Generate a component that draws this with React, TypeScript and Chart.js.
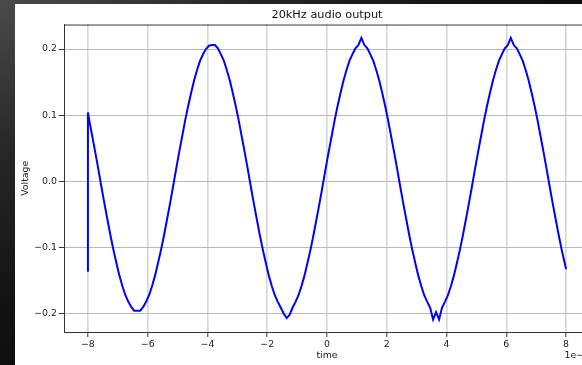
import React, { useEffect, useRef } from "react";
import { Chart, registerables } from "chart.js";

Chart.register(...registerables);

const chartTitle = "20kHz audio output";
const xAxisLabel = "time";
const yAxisLabel = "Voltage";
const xOffsetText = "1e\u22125";

const xTicks = [-8, -6, -4, -2, 0, 2, 4, 6, 8];
const yTicks = [-0.2, -0.1, 0, 0.1, 0.2];

// glitch at the very first instant
const glitchTime = -8;
const glitchVoltages = [-0.137, 0.104];

// regular samples (time in units of 1e-5 s)
const sampleStart = -7.95;
const sampleStep = 0.1;

const voltageSegment1 = [
  0.091, 0.067, 0.043, 0.018, -0.008, -0.033, -0.057, -0.081, -0.103, -0.123,
  -0.142, -0.158, -0.172, -0.182, -0.19, -0.196, -0.196, -0.196, -0.19, -0.182,
  -0.172, -0.158, -0.142, -0.123, -0.103, -0.081, -0.057, -0.033, -0.008, 0.018,
  0.043, 0.067, 0.091, 0.113, 0.133, 0.152, 0.168, 0.182, 0.192, 0.2,
  0.205,
];
const voltageSegment2 = [
  0.206, 0.206, 0.201, 0.192, 0.182, 0.168, 0.152, 0.133, 0.113, 0.091,
  0.067, 0.043, 0.018, -0.008, -0.033, -0.057, -0.081, -0.103, -0.123, -0.142,
  -0.158, -0.172, -0.182, -0.191, -0.2, -0.207, -0.202, -0.191, -0.182, -0.172,
  -0.158, -0.142, -0.123, -0.103, -0.081, -0.057, -0.033, -0.008, 0.018, 0.043,
  0.067, 0.091, 0.113, 0.133, 0.152, 0.168, 0.182, 0.192, 0.201, 0.206,
];
const voltageSegment3 = [
  0.217, 0.206, 0.201, 0.192, 0.182, 0.168, 0.152, 0.133, 0.113, 0.091,
  0.067, 0.043, 0.018, -0.008, -0.033, -0.057, -0.081, -0.103, -0.123, -0.142,
  -0.158, -0.172, -0.182, -0.191, -0.209, -0.198, -0.209, -0.191, -0.182, -0.172,
  -0.158, -0.142, -0.123, -0.103, -0.081, -0.057, -0.033, -0.008, 0.018, 0.043,
  0.067, 0.091, 0.113, 0.133, 0.152, 0.168, 0.182, 0.192, 0.201, 0.206,
];
const voltageSegment4 = [
  0.217, 0.206, 0.201, 0.192, 0.182, 0.168, 0.152, 0.133, 0.113, 0.091,
  0.067, 0.043, 0.018, -0.008, -0.033, -0.057, -0.081, -0.103, -0.123,
];

const endTime = 8;
const endVoltage = -0.133;

const FONT = "'DejaVu Sans', 'Liberation Sans', sans-serif";

const fmtMinus = (s: string) => s.replace("-", "\u2212");

export default function App() {
  const canvasRef = useRef<HTMLCanvasElement | null>(null);

  useEffect(() => {
    document.body.style.margin = "0";
    document.body.style.overflow = "hidden";
    const canvas = canvasRef.current;
    if (!canvas) return;

    const samples = [
      ...voltageSegment1,
      ...voltageSegment2,
      ...voltageSegment3,
      ...voltageSegment4,
    ];
    const points: { x: number; y: number }[] = [];
    glitchVoltages.forEach((v) => points.push({ x: glitchTime, y: v }));
    samples.forEach((v, i) =>
      points.push({ x: +(sampleStart + i * sampleStep).toFixed(3), y: v })
    );
    points.push({ x: endTime, y: endVoltage });

    const framePlugin = {
      id: "frame",
      afterDraw(chart: any) {
        const { ctx, chartArea } = chart;
        ctx.save();
        ctx.strokeStyle = "#333";
        ctx.lineWidth = 1;
        ctx.beginPath();
        ctx.moveTo(chartArea.left, chartArea.top + 0.5);
        ctx.lineTo(chartArea.right, chartArea.top + 0.5);
        ctx.moveTo(chartArea.right - 0.5, chartArea.top);
        ctx.lineTo(chartArea.right - 0.5, chartArea.bottom);
        ctx.stroke();
        ctx.font = `9.4px ${FONT}`;
        ctx.fillStyle = "#222";
        ctx.textAlign = "right";
        ctx.textBaseline = "middle";
        ctx.fillText(xOffsetText, chartArea.right, 351.5);
        ctx.restore();
      },
    };

    const chart = new Chart(canvas, {
      type: "line",
      data: {
        datasets: [
          {
            data: points,
            borderColor: "#0000ff",
            borderWidth: 2,
            pointRadius: 0,
            tension: 0,
            fill: false,
          },
        ],
      },
      options: {
        animation: false,
        responsive: false,
        devicePixelRatio: 1,
        parsing: false as any,
        normalized: true,
        layout: { padding: { top: 0, left: 0, right: 25, bottom: 0 } },
        plugins: {
          legend: { display: false },
          tooltip: { enabled: false },
          title: {
            display: true,
            text: chartTitle,
            fullSize: false,
            color: "#111",
            font: { family: FONT, size: 11.3, weight: "normal" as any },
            padding: { top: 4, bottom: 3 },
          },
        },
        scales: {
          x: {
            type: "linear",
            min: -8.8,
            max: 8.8,
            afterBuildTicks: (s: any) => {
              s.ticks = xTicks.map((v) => ({ value: v }));
            },
            afterFit: (s: any) => {
              s.height = 33;
            },
            ticks: {
              callback: (v: any) => fmtMinus(String(v)),
              color: "#222",
              font: { family: FONT, size: 9.4 },
              padding: 2,
              maxRotation: 0,
              autoSkip: false,
            },
            grid: {
              color: "#d6d6d6",
              lineWidth: 1.6,
              tickColor: "#333",
              tickLength: 5,
              tickWidth: 1,
            },
            border: { color: "#333", width: 1 },
            title: {
              display: true,
              text: xAxisLabel,
              color: "#222",
              font: { family: FONT, size: 9.4 },
              padding: { top: 0, bottom: 4 },
            },
          },
          y: {
            type: "linear",
            min: -0.228,
            max: 0.237,
            afterBuildTicks: (s: any) => {
              s.ticks = yTicks.map((v) => ({ value: v }));
            },
            afterFit: (s: any) => {
              s.width = 49;
            },
            ticks: {
              callback: (v: any) => fmtMinus(Number(v).toFixed(1)),
              color: "#222",
              font: { family: FONT, size: 9.4 },
              padding: 2,
              autoSkip: false,
            },
            grid: {
              color: "#b8b8b8",
              lineWidth: 1,
              tickColor: "#333",
              tickLength: 5,
              tickWidth: 1,
            },
            border: { color: "#333", width: 1 },
            title: {
              display: true,
              text: yAxisLabel,
              color: "#222",
              font: { family: FONT, size: 9.4 },
              padding: { top: 5, bottom: 0 },
            },
          },
        },
      },
      plugins: [framePlugin],
    });

    return () => chart.destroy();
  }, []);

  return (
    <div
      style={{
        position: "relative",
        width: 582,
        height: 365,
        overflow: "hidden",
        background:
          "radial-gradient(ellipse at 0% 0%, #4a4a4a 0%, #262626 30%, #121212 60%, #050505 100%)",
      }}
    >
      <div
        style={{
          position: "absolute",
          left: 15,
          top: 4,
          width: 567,
          height: 361,
          background: "#ffffff",
          overflow: "hidden",
        }}
      >
        <canvas
          ref={canvasRef}
          width={600}
          height={361}
          style={{ display: "block", width: 600, height: 361 }}
        />
      </div>
    </div>
  );
}
